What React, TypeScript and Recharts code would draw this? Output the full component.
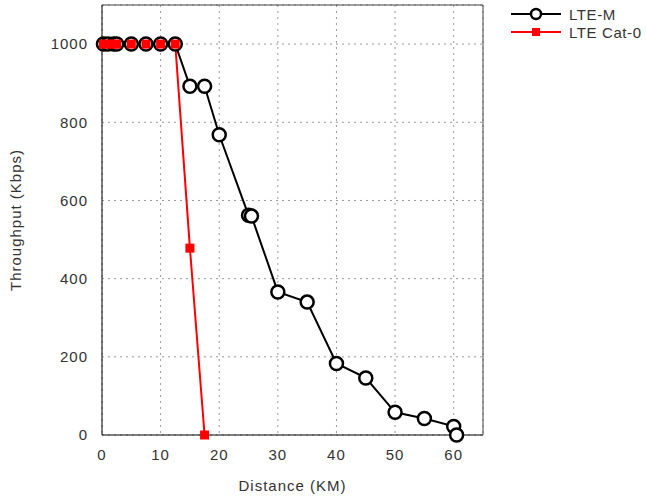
import { LineChart, Line, XAxis, YAxis, CartesianGrid, ReferenceLine } from 'recharts';

const lteMDistance = [0.25, 1, 2, 2.5, 5, 7.5, 10, 12.5, 15, 17.5, 20, 25, 25.5, 30, 35, 40, 45, 50, 55, 60, 60.5];
const lteMThroughput = [1000, 1000, 1000, 1000, 1000, 1000, 1000, 1000, 892, 892, 768, 562, 560, 366, 340, 183, 146, 58, 42, 22, 0];

const cat0Distance = [0.25, 1, 2, 2.5, 5, 7.5, 10, 12.5, 15, 17.5];
const cat0Throughput = [1000, 1000, 1000, 1000, 1000, 1000, 1000, 1000, 478, 0];

const xTicks = [0, 10, 20, 30, 40, 50, 60];
const yTicks = [0, 200, 400, 600, 800, 1000];

const lteM = lteMDistance.map((d, i) => ({ distance: d, value: lteMThroughput[i] }));
const cat0 = cat0Distance.map((d, i) => ({ distance: d, value: cat0Throughput[i] }));

const font = '"Liberation Sans", Arial, sans-serif';
const textStyle = { fill: '#333', fontSize: 15, fontFamily: font, letterSpacing: 1 };

function LegendBox() {
  const items = [
    { name: 'LTE-M', color: '#000', square: false },
    { name: 'LTE Cat-0', color: '#f00', square: true },
  ];
  return (
    <div style={{ position: 'absolute', left: 511, top: 5, fontFamily: font, fontSize: 15, color: '#333', letterSpacing: 0.6 }}>
      {items.map((it) => (
        <div key={it.name} style={{ display: 'flex', alignItems: 'center', height: 18 }}>
          <svg width={50} height={14}>
            <line x1={0} y1={7} x2={50} y2={7} stroke={it.color} strokeWidth={it.square ? 1.8 : 2.2} />
            {it.square ? (
              <rect x={21} y={3} width={8} height={8} fill="#f00" />
            ) : (
              <circle cx={25} cy={7} r={5} fill="#fff" stroke="#000" strokeWidth={2.5} />
            )}
          </svg>
          <span style={{ marginLeft: 8 }}>{it.name}</span>
        </div>
      ))}
    </div>
  );
}

export default function App() {
  return (
    <div style={{ position: 'absolute', left: 0, top: 0, width: 646, height: 498, background: '#fff' }}>
      <LineChart width={646} height={498} margin={{ top: 5, right: 163, bottom: 0, left: 0 }}>
        <CartesianGrid strokeDasharray="2 4" stroke="#999" />
        <XAxis
          type="number"
          dataKey="distance"
          domain={[0, 65]}
          ticks={xTicks}
          allowDuplicatedCategory={false}
          height={63}
          stroke="#000"
          tickLine={false}
          tickMargin={8}
          tick={textStyle}
          label={{ value: 'Distance (KM)', position: 'insideBottom', offset: 7, ...textStyle }}
        />
        <YAxis
          type="number"
          dataKey="value"
          domain={[0, 1100]}
          ticks={yTicks}
          width={102}
          stroke="#000"
          tickLine={false}
          tickMargin={8}
          tick={textStyle}
          label={{ value: 'Throughput (Kbps)', angle: -90, position: 'insideLeft', offset: 16, ...textStyle, style: { textAnchor: 'middle' } }}
        />
        <ReferenceLine y={1100} stroke="#444" />
        <ReferenceLine x={65} stroke="#444" />
        <Line
          data={lteM}
          dataKey="value"
          name="LTE-M"
          stroke="#000"
          strokeWidth={2}
          dot={{ r: 6.5, fill: '#fff', stroke: '#000', strokeWidth: 2.5 }}
          isAnimationActive={false}
        />
        <Line
          data={cat0}
          dataKey="value"
          name="LTE Cat-0"
          stroke="#f00"
          strokeWidth={2}
          dot={(p: any) => <rect key={p.index} x={p.cx - 4.5} y={p.cy - 4.5} width={9} height={9} fill="#f00" />}
          isAnimationActive={false}
        />
      </LineChart>
      <LegendBox />
    </div>
  );
}
